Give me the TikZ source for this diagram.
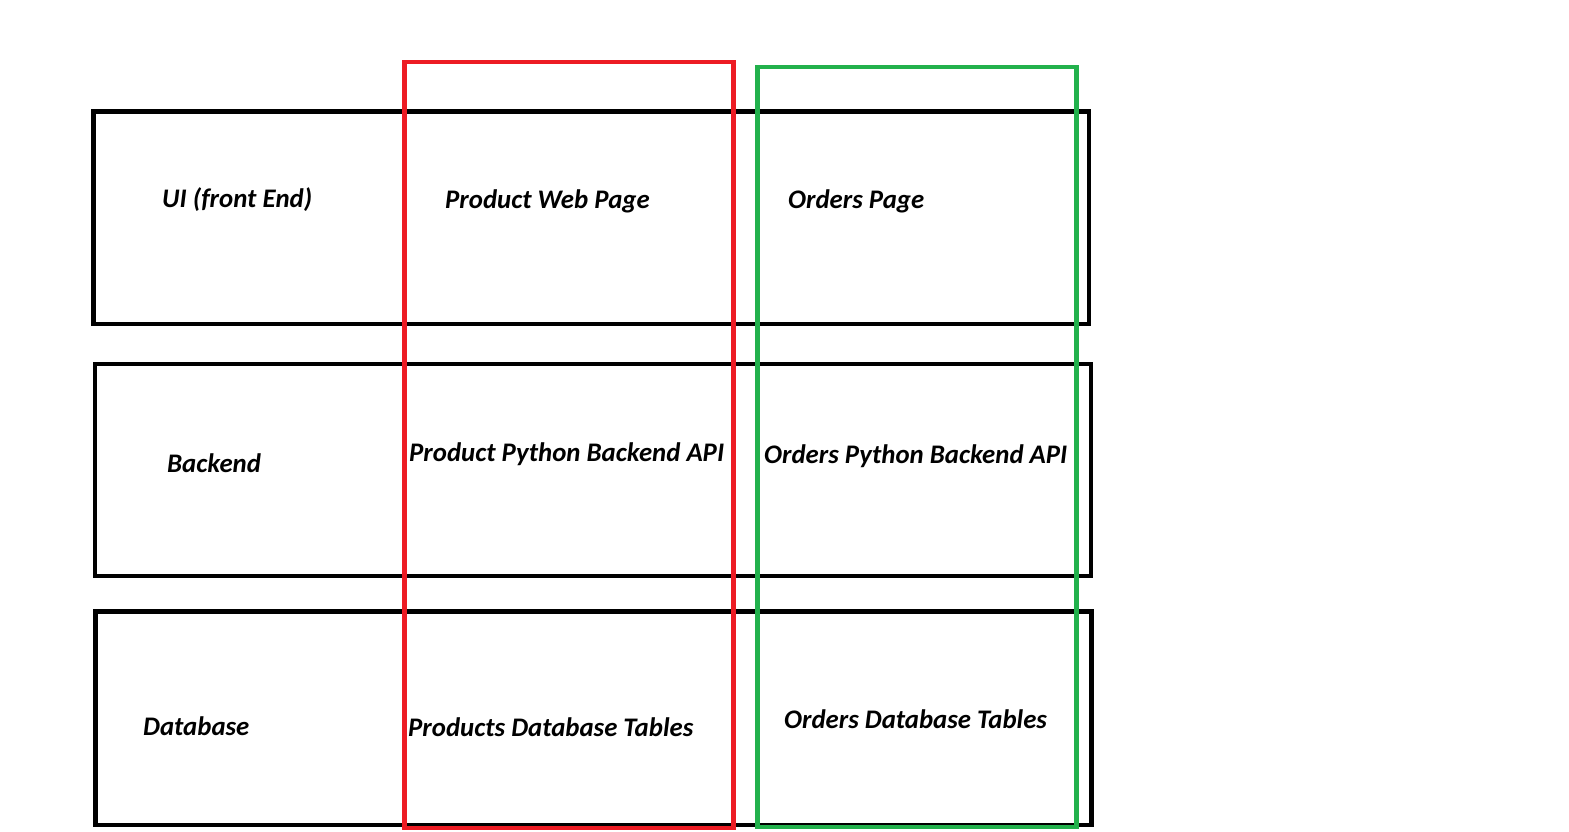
\documentclass[tikz,border=0pt]{standalone}
\usepackage{fontspec}
\setmainfont{Carlito}
\definecolor{mspred}{RGB}{237,28,36}
\definecolor{mspgreen}{RGB}{34,177,76}
\begin{document}
\begin{tikzpicture}[x=1pt,y=-1pt,
  layer/.style={draw=black,line width=4.8pt},
  colred/.style={draw=mspred,line width=4.5pt},
  colgreen/.style={draw=mspgreen,line width=4.5pt},
  lbl/.style={anchor=west,inner sep=0pt,font=\fontsize{26.8}{32}\selectfont\bfseries\itshape}]
\useasboundingbox (0,0) rectangle (1569,831);
\fill[white] (0,0) rectangle (1569,831);
% layers
\draw[layer] (93.5,111.5) rectangle (1089,324);
\draw[layer] (95,364) rectangle (1091,576);
\draw[layer] (95.5,611.5) rectangle (1091.5,825);
% columns
\draw[colred] (404.5,62) rectangle (733.5,828);
\draw[colgreen] (757.5,67) rectangle (1076.5,827);
% labels
\node[lbl] (ui) at (162,200) {UI (front End)};
\node[lbl] (pwp) at (445,201) {Product Web Page};
\node[lbl] (op) at (788,201) {Orders Page};
\node[lbl] (be) at (167,463) {Backend};
\node[lbl] (ppb) at (409,454) {Product Python Backend API};
\node[lbl] (opb) at (764,456) {Orders Python Backend API};
\node[lbl] (db) at (143,726) {Database};
\node[lbl] (pdt) at (408,727) {Products Database Tables};
\node[lbl] (odt) at (784,719) {Orders Database Tables};
\end{tikzpicture}
\end{document}
